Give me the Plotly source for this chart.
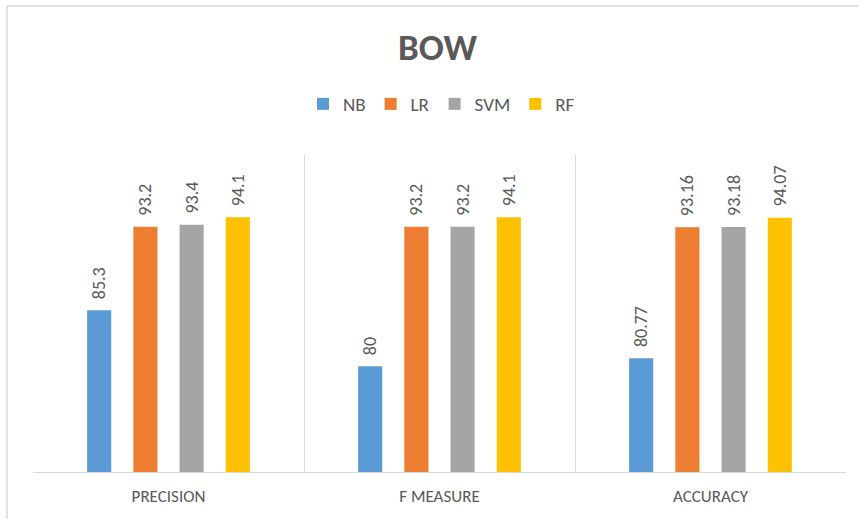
import plotly.graph_objects as go

categories = ["PRECISION", "F MEASURE", "ACCURACY"]
series_names = ["NB", "LR", "SVM", "RF"]
nb = [85.3, 80, 80.77]
lr = [93.2, 93.2, 93.16]
svm = [93.4, 93.2, 93.18]
rf = [94.1, 94.1, 94.07]
colors = ["#5B9BD5", "#ED7D31", "#A5A5A5", "#FFC000"]

FONT = "Carlito, 'Liberation Sans', Arial, sans-serif"
GREY = "#595959"

fig = go.Figure()
for name, vals, col in zip(series_names, [nb, lr, svm, rf], colors):
    fig.add_trace(go.Bar(
        name=name, x=categories, y=vals, marker_color=col,
        marker_line_width=0,
        text=["\u00a0\u00a0" + str(v) for v in vals],
        textposition="outside", textangle=-90, constraintext="none",
        textfont=dict(family=FONT, size=18, color=GREY),
        cliponaxis=False,
    ))

W, H = 859, 519
ml, mr, mt, mb = 33, 13, 155, 47
pw, ph = W - ml - mr, H - mt - mb

fig.update_layout(
    width=W, height=H,
    margin=dict(l=ml, r=mr, t=mt, b=mb),
    paper_bgcolor="white", plot_bgcolor="white",
    barmode="group", bargap=0.318, bargroupgap=0.478,
    title=dict(text="<b>BOW</b>", x=(394 + 481) / 2 / W, xanchor="center",
               y=1 - 47 / H, yanchor="middle",
               font=dict(family=FONT, size=37, color=GREY)),
    legend=dict(orientation="h", x=((333 + 550) / 2 - ml) / pw,
                xanchor="center",
                y=(472 - 104) / ph, yanchor="middle",
                font=dict(family=FONT, size=19, color=GREY),
                itemwidth=30, traceorder="normal"),
    font=dict(family=FONT, color=GREY),
    xaxis=dict(showgrid=True, gridcolor="#D9D9D9", gridwidth=1,
               tickson="boundaries", ticks="", showline=True,
               linecolor="#D9D9D9", linewidth=1,
               tickfont=dict(family=FONT, size=17, color=GREY),
               ticklabelstandoff=9),
    yaxis=dict(range=[70, 100], visible=False),
    shapes=[dict(type="rect", xref="paper", yref="paper",
                 x0=(7 - ml) / pw, x1=(W + 20 - ml) / pw,
                 y0=(472 - H - 20) / ph, y1=(472 - 6) / ph,
                 line=dict(color="#D9D9D9", width=1.5), layer="below")],
)

fig.write_html("out.html")
